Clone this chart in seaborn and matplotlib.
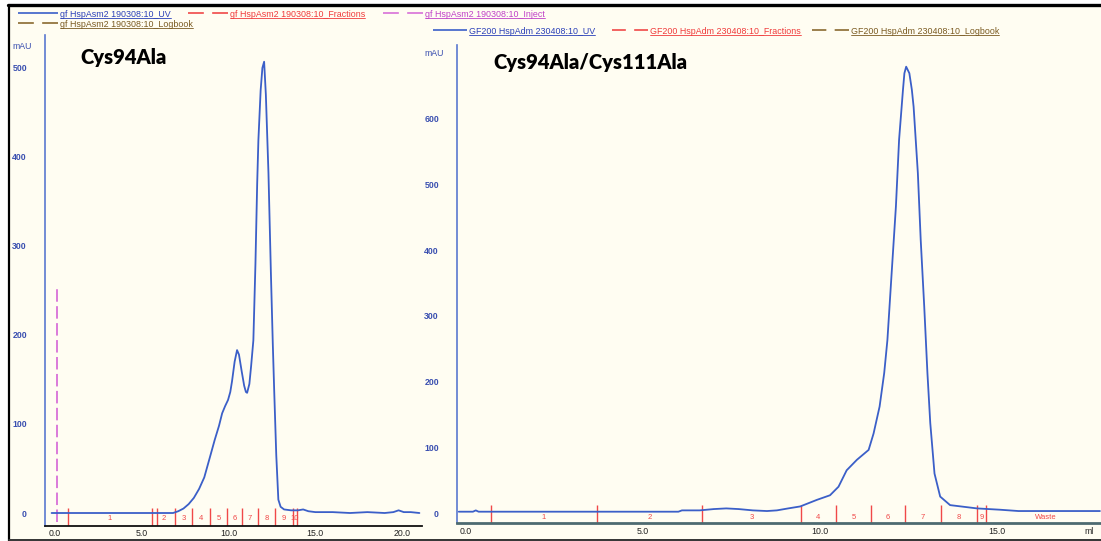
import matplotlib
matplotlib.use("Agg")
import matplotlib.pyplot as plt
from matplotlib.lines import Line2D
from matplotlib.patches import Rectangle
from matplotlib import font_manager
import pandas as pd
import seaborn as sns

# ---------------- Cys94Ala run (gf HspAsm2 190308:10) ----------------
c94_volume = [-0.2, 1.0, 3.0, 5.0, 6.0, 6.8, 7.1, 7.4, 7.7, 8.0, 8.3, 8.6, 8.93, 9.2,
              9.45, 9.63, 9.8, 9.97, 10.1, 10.2, 10.35, 10.49, 10.6, 10.75, 10.9, 11.0,
              11.07, 11.2, 11.3, 11.43, 11.55, 11.65, 11.72, 11.85, 11.95, 12.05, 12.15,
              12.3, 12.44, 12.55, 12.63, 12.75, 12.87, 13.0, 13.2, 13.6, 14.0, 14.3, 14.6,
              15.0, 16.0, 17.0, 18.0, 19.0, 19.5, 19.8, 20.1, 20.5, 21.0]
c94_uv = [0, 0, 0, 0, 0, 0, 2, 5, 10, 17, 27, 40, 63, 82,
          98, 112, 120, 127, 136, 148, 170, 183, 178, 160, 143, 136,
          135, 145, 165, 194, 280, 370, 419, 475, 500, 507, 470,
          382, 270, 190, 138, 65, 15, 7, 4, 3, 3, 4, 2,
          1, 1, 0, 1, 0, 1, 3, 1, 1, 0]
c94_frac_marks = [0.75, 5.59, 6.92, 7.90, 8.93, 9.91, 10.78, 11.70, 12.68, 13.72, 13.95]
c94_extra_marks = [5.88]
c94_frac_labels = ["1", "2", "3", "4", "5", "6", "7", "8", "9", "10"]
c94_inject_volume = 0.1
c94_inject_height = 253

# ------------- Cys94Ala/Cys111Ala run (GF200 HspAdm 230408:10) -------------
dm_volume = [-0.2, 0.2, 0.28, 0.36, 2.0, 4.0, 6.0, 6.1, 6.6, 7.0, 7.35, 7.7, 8.1, 8.5,
             8.78, 9.1, 9.44, 9.91, 10.28, 10.52, 10.75, 11.04, 11.37, 11.51, 11.68,
             11.81, 11.9, 12.02, 12.14, 12.23, 12.34, 12.38, 12.43, 12.52, 12.59, 12.64,
             12.76, 12.84, 12.94, 13.03, 13.11, 13.23, 13.39, 13.67, 14.43, 15.08, 15.6,
             16.5, 17.9]
dm_uv = [2, 2, 4, 2, 2, 2, 2, 4, 4, 6, 7, 6, 4, 3,
         4, 7, 10, 20, 27, 40, 65, 81, 96, 121, 162,
         213, 263, 365, 466, 568, 644, 669, 679, 669, 644, 618,
         517, 416, 314, 213, 137, 60, 25, 12, 7, 5, 3,
         3, 3]
dm_frac_marks = [0.71, 3.70, 6.67, 9.46, 10.45, 11.44, 12.40, 13.42, 14.43, 14.67]
dm_frac_labels = ["1", "2", "3", "4", "5", "6", "7", "8", "9", "Waste"]

# ---------------- axis ticks ----------------
c94_xticks = [0, 5, 10, 15, 20]
c94_yticks = [0, 100, 200, 300, 400, 500]
dm_xticks = [0, 5, 10, 15]
dm_yticks = [0, 100, 200, 300, 400, 500, 600]

# ---------------- legend entries ----------------
c94_legend = [
    ("gf HspAsm2 190308:10_UV", "uv"),
    ("gf HspAsm2 190308:10_Fractions", "frac"),
    ("gf HspAsm2 190308:10_Inject", "inject"),
    ("gf HspAsm2 190308:10_Logbook", "log"),
]
dm_legend = [
    ("GF200 HspAdm 230408:10_UV", "uv"),
    ("GF200 HspAdm 230408:10_Fractions", "frac"),
    ("GF200 HspAdm 230408:10_Logbook", "log"),
]

# ---------------- style ----------------
sns.set_theme(style="white")
avail = {f.name for f in font_manager.fontManager.ttflist}
small_font = "Liberation Sans Narrow" if "Liberation Sans Narrow" in avail else "Liberation Sans"
title_font = "Lato" if "Lato" in avail else "DejaVu Sans"
plt.rcParams["font.family"] = ["Liberation Sans", "DejaVu Sans"]
plt.rcParams["lines.scale_dashes"] = False

CREAM = "#fffdf2"
UV_BLUE = "#3b5fc8"
AXIS_BLUE = "#5a78d0"
TICK_BLUE = "#3a4fb0"
FRAC_RED = "#f04848"
INJ_MAG = "#d870d8"
LOG_BROWN = "#8a6a30"
STYLE_COLORS = {"uv": UV_BLUE, "frac": FRAC_RED, "inject": INJ_MAG, "log": LOG_BROWN}
TEXT_COLORS = {"uv": "#2a3fb8", "frac": "#f03a3a", "inject": "#c040c8", "log": "#7a5a20"}

W, H = 1101, 541
fig = plt.figure(figsize=(W / 100, H / 100), dpi=100)
fig.patch.set_facecolor("white")


def box(x0, y0, x1, y1):
    return [x0 / W, 1 - y1 / H, (x1 - x0) / W, (y1 - y0) / H]


def fx(px):
    return px / W


def fy(py):
    return 1 - py / H


# page background and frame
fig.add_artist(Rectangle((fx(9), fy(539)), fx(1101) - fx(9), fy(5) - fy(539),
                         transform=fig.transFigure, facecolor=CREAM, edgecolor="none", zorder=0))
fig.add_artist(Line2D([fx(8), fx(1101)], [fy(5), fy(5)], transform=fig.transFigure,
                      color="black", lw=2.4, zorder=1))
fig.add_artist(Line2D([fx(9), fx(9)], [fy(5), fy(541)], transform=fig.transFigure,
                      color="black", lw=1.6, zorder=1))
fig.add_artist(Line2D([fx(9), fx(1101)], [fy(539.5), fy(539.5)], transform=fig.transFigure,
                      color="#333333", lw=1.4, zorder=1))

ax1 = fig.add_axes(box(45, 35, 422, 526))
ax2 = fig.add_axes(box(457, 45, 1101, 523))

df_c94 = pd.DataFrame({"ml": c94_volume, "mAU": c94_uv})
df_dm = pd.DataFrame({"ml": dm_volume, "mAU": dm_uv})


def style_axes(ax, xlim, ylim, xticks, yticks, bottom_color, bottom_lw, xpad):
    ax.set_facecolor("none")
    ax.set_xlim(*xlim)
    ax.set_ylim(*ylim)
    for s in ("top", "right"):
        ax.spines[s].set_visible(False)
    ax.spines["left"].set_color(AXIS_BLUE)
    ax.spines["left"].set_linewidth(1.2)
    ax.spines["bottom"].set_color(bottom_color)
    ax.spines["bottom"].set_linewidth(bottom_lw)
    ax.set_xticks(xticks)
    ax.set_xticklabels([f"{v:.1f}" for v in xticks])
    ax.set_yticks(yticks)
    ax.set_yticklabels([str(v) for v in yticks])
    ax.tick_params(axis="y", colors=AXIS_BLUE, labelcolor=TICK_BLUE, length=2,
                   width=0.8, pad=11, labelsize=6.3, direction="out")
    ax.tick_params(axis="x", length=0, pad=xpad, labelsize=6.3, labelcolor="#222222")
    for t in ax.get_yticklabels():
        t.set_fontweight("bold")
    ax.set_xlabel("")
    ax.set_ylabel("")
    ax.grid(False)


def draw_fractions(ax, marks, labels, top, label_y, end, extra=()):
    bottom = ax.get_ylim()[0]
    ax.vlines(list(marks) + list(extra), bottom, top, colors=FRAC_RED, lw=1.0, zorder=2)
    bounds = list(marks) + [end]
    for i, lab in enumerate(labels):
        mid = (bounds[i] + bounds[i + 1]) / 2
        ax.text(mid, label_y, lab, color=FRAC_RED, fontsize=5.5, ha="center", va="center",
                zorder=3)


# ---- Cys94Ala panel ----
sns.lineplot(data=df_c94, x="ml", y="mAU", ax=ax1, color=UV_BLUE, linewidth=1.3,
             estimator=None, sort=False, zorder=4)
style_axes(ax1, (-0.58, 21.15), (-14.6, 537), c94_xticks, c94_yticks, "#111111", 1.3, 2)
# the last mark closes fraction 10
draw_fractions(ax1, c94_frac_marks[:-1], c94_frac_labels, 6, -6.5, c94_frac_marks[-1],
               extra=c94_extra_marks + c94_frac_marks[-1:])
ax1.plot([c94_inject_volume, c94_inject_volume], [-10, c94_inject_height],
         color=INJ_MAG, lw=1.3, dashes=(9, 3.2), zorder=3)
ax1.annotate("mAU", xy=(0, 1), xycoords="axes fraction", xytext=(-33, -12),
             textcoords="offset pixels", color=TICK_BLUE, fontsize=6.3, ha="left", va="center")
ax1.text(0.095, 0.955, "Cys94Ala", transform=ax1.transAxes, fontsize=14.5,
         fontweight="heavy", family=title_font, color="black", ha="left", va="center")

# ---- Cys94Ala/Cys111Ala panel ----
sns.lineplot(data=df_dm, x="ml", y="mAU", ax=ax2, color=UV_BLUE, linewidth=1.3,
             estimator=None, sort=False, zorder=4)
style_axes(ax2, (-0.25, 17.93), (-15.2, 712), dm_xticks, dm_yticks, "#4d6a70", 2.0, 3)
draw_fractions(ax2, dm_frac_marks, dm_frac_labels, 12, -7, 18.1)
ax2.annotate("ml", xy=(17.6, 0), xycoords=ax2.get_xaxis_transform(), xytext=(0, -9),
             textcoords="offset pixels", color="#222222", fontsize=6.3, ha="center",
             va="center")
ax2.annotate("mAU", xy=(0, 1), xycoords="axes fraction", xytext=(-33, -8),
             textcoords="offset pixels", color=TICK_BLUE, fontsize=6.3, ha="left", va="center")
ax2.text(0.056, 0.963, "Cys94Ala/Cys111Ala", transform=ax2.transAxes, fontsize=14.5,
         fontweight="heavy", family=title_font, color="black", ha="left", va="center")

# ---- curve legends along the top ----
legend_texts = []


def legend_entry(x, y, label, kind, length=40):
    kw = dict(transform=fig.transFigure, color=STYLE_COLORS[kind], lw=1.2, zorder=5,
              solid_capstyle="butt", dash_capstyle="butt")
    if kind == "uv":
        fig.add_artist(Line2D([fx(x), fx(x + length)], [fy(y), fy(y)], **kw))
    else:
        # two dashes spanning the sample length
        gap = 6.0
        dash = (length * 0.72 - gap) / 2
        fig.add_artist(Line2D([fx(x), fx(x + length)], [fy(y), fy(y)],
                              dashes=(dash, gap), **kw))
    t = fig.text(fx(x + length + 2), fy(y + 1.5), label, color=TEXT_COLORS[kind],
                 fontsize=6.4, family=[small_font, "DejaVu Sans"], ha="left", va="center",
                 zorder=5)
    legend_texts.append(t)


legend_entry(18, 13, c94_legend[0][0], c94_legend[0][1])
legend_entry(188, 13, c94_legend[1][0], c94_legend[1][1])
legend_entry(383, 13, c94_legend[2][0], c94_legend[2][1])
legend_entry(18, 23, c94_legend[3][0], c94_legend[3][1])
legend_entry(433, 30, dm_legend[0][0], dm_legend[0][1], length=34)
legend_entry(612, 30, dm_legend[1][0], dm_legend[1][1], length=36)
legend_entry(812, 30, dm_legend[2][0], dm_legend[2][1], length=37)

fig.canvas.draw()
renderer = fig.canvas.get_renderer()
for t in legend_texts:
    bb = t.get_window_extent(renderer)
    yline = bb.y0 + 0.8
    fig.add_artist(Line2D([bb.x0 / W, bb.x1 / W], [yline / H, yline / H],
                          transform=fig.transFigure, color=t.get_color(), lw=0.6, zorder=5))

fig.savefig("out.png", dpi=100, facecolor=fig.get_facecolor())
